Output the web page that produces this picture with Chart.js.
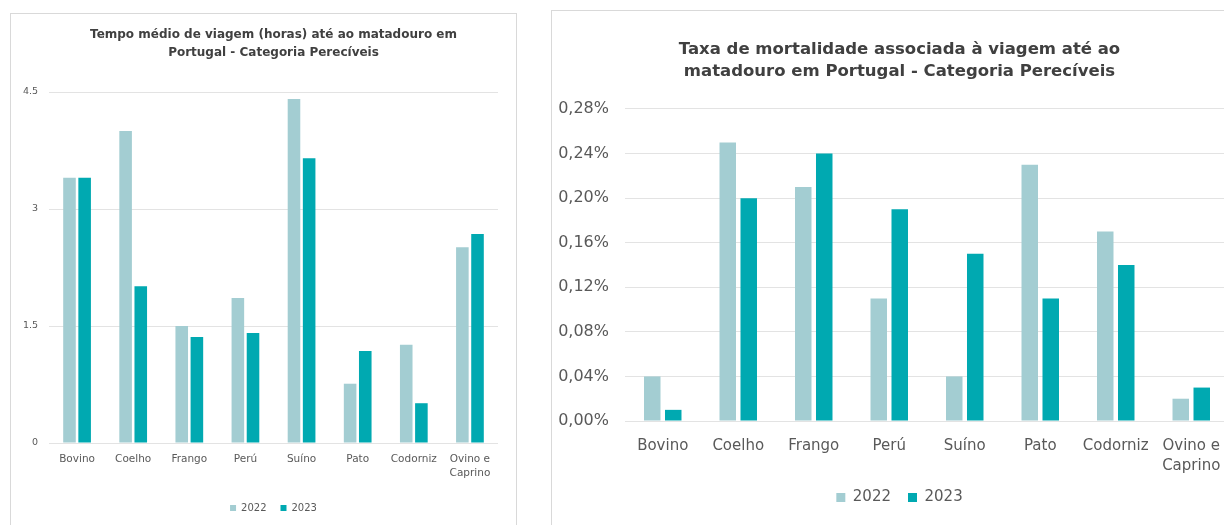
<!DOCTYPE html>
<html lang="pt">
<head>
<meta charset="utf-8">
<title>Transporte para o matadouro - Perecíveis</title>
<script src="https://cdn.jsdelivr.net/npm/chart.js@4/dist/chart.umd.min.js"></script>
<style>
    html, body {
        margin: 0;
        padding: 0;
        background: #fff;
        overflow: hidden;
        width: 1224px;
        height: 525px;
    }
    .cartao {
        position: absolute;
        border: 1px solid #d9d9d9;
        background: #fff;
        box-sizing: border-box;
    }
    #cartao-tempo { left: 10px; top: 13px; width: 507px; height: 540px; }
    #cartao-mortalidade { left: 551px; top: 10px; width: 720px; height: 540px; }
    canvas { position: absolute; left: 0; top: 0; }
</style>
</head>
<body>

<div class="cartao" id="cartao-tempo">
    <canvas id="grafico-tempo" width="505" height="516"></canvas>
</div>
<div class="cartao" id="cartao-mortalidade">
    <canvas id="grafico-mortalidade" width="690" height="520"></canvas>
</div>

<script>
// Categorias de animais
var categorias = ['Bovino', 'Coelho', 'Frango', 'Perú', 'Suíno', 'Pato', 'Codorniz', ['Ovino e', 'Caprino']];

// Tempo médio de viagem (horas)
var tempo2022 = [3.40, 4.00, 1.50, 1.86, 4.41, 0.76, 1.26, 2.51];
var tempo2023 = [3.40, 2.01, 1.36, 1.41, 3.65, 1.18, 0.51, 2.68];
var ticksTempo = [0, 1.5, 3, 4.5];

// Taxa de mortalidade (%)
var mortalidade2022 = [0.04, 0.25, 0.21, 0.11, 0.04, 0.23, 0.17, 0.02];
var mortalidade2023 = [0.01, 0.20, 0.24, 0.19, 0.15, 0.11, 0.14, 0.03];
var ticksMortalidade = [0, 0.04, 0.08, 0.12, 0.16, 0.20, 0.24, 0.28];

var anos = ['2022', '2023'];
var cores = ['#a3cdd2', '#00a9b1'];

var FONTE = '"DejaVu Sans", "Noto Sans", sans-serif';

function criaGrafico(canvas, o) {
    var escalas = {
        x: {
            grid: { display: false, drawTicks: false },
            border: { display: false },
            ticks: {
                color: '#595959',
                font: { family: FONTE, size: o.tamEixoX, lineHeight: o.linhaEixo },
                padding: o.padX,
                maxRotation: 0,
                autoSkip: false
            },
            afterFit: function (s) { s.height = o.alturaX; }
        },
        y: {
            min: o.ticks[0],
            max: o.ticks[o.ticks.length - 1],
            grid: { color: '#e3e3e3', lineWidth: 1, drawTicks: false },
            border: { display: false },
            afterBuildTicks: function (s) {
                s.ticks = o.ticks.map(function (v) { return { value: v }; });
            },
            ticks: {
                color: '#595959',
                font: { family: FONTE, size: o.tamEixoY },
                padding: o.padY,
                callback: o.formato
            },
            afterFit: function (s) { s.width = o.larguraY; }
        }
    };

    // margem vazia à direita, para o título e a legenda ficarem centrados no cartão
    if (o.margemDireita) {
        escalas.margem = {
            type: 'linear',
            position: 'right',
            grid: { display: false, drawTicks: false },
            border: { display: false },
            ticks: { display: false },
            afterFit: function (s) { s.width = o.margemDireita; }
        };
    }

    return new Chart(canvas, {
        type: 'bar',
        data: {
            labels: categorias,
            datasets: [
                { label: anos[0], data: o.serieA, backgroundColor: cores[0] },
                { label: anos[1], data: o.serieB, backgroundColor: cores[1] }
            ]
        },
        options: {
            responsive: false,
            animation: false,
            datasets: {
                bar: {
                    categoryPercentage: o.catPct,
                    barPercentage: o.barPct
                }
            },
            layout: { padding: o.padding },
            plugins: {
                title: {
                    display: true,
                    fullSize: o.tituloLargo,
                    text: o.titulo,
                    color: '#404040',
                    font: { family: FONTE, size: o.tamTitulo, weight: 'bold', lineHeight: o.alturaTitulo },
                    padding: o.padTitulo
                },
                legend: {
                    position: 'bottom',
                    fullSize: o.tituloLargo,
                    labels: {
                        color: '#595959',
                        font: { family: FONTE, size: o.tamLegenda },
                        boxWidth: o.caixa,
                        boxHeight: o.caixa,
                        padding: o.padLegenda
                    }
                },
                tooltip: { enabled: false }
            },
            scales: escalas
        }
    });
}

criaGrafico(document.getElementById('grafico-tempo'), {
    serieA: tempo2022,
    serieB: tempo2023,
    ticks: ticksTempo,
    titulo: ['Tempo médio de viagem (horas) até ao matadouro em', 'Portugal - Categoria Perecíveis'],
    tituloLargo: false,
    tamTitulo: 12, alturaTitulo: 1.5, padTitulo: { top: 12, bottom: 30 },
    tamLegenda: 10, caixa: 6, padLegenda: 14,
    tamEixoX: 10.5, tamEixoY: 9.5, linhaEixo: 1.35, padX: 9, alturaX: 46,
    padY: 11, larguraY: 30,
    catPct: 0.54, barPct: 0.83,
    padding: { left: 8, right: 18, top: 0, bottom: 7 },
    formato: function (v) { return String(v); }
});

criaGrafico(document.getElementById('grafico-mortalidade'), {
    serieA: mortalidade2022,
    serieB: mortalidade2023,
    ticks: ticksMortalidade,
    titulo: ['Taxa de mortalidade associada à viagem até ao', 'matadouro em Portugal - Categoria Perecíveis'],
    tituloLargo: true,
    tamTitulo: 16.5, alturaTitulo: 1.333, padTitulo: { top: 28, bottom: 26 },
    tamLegenda: 15, caixa: 9, padLegenda: 17,
    tamEixoX: 15, tamEixoY: 16, linhaEixo: 1.35, padX: 15, alturaX: 52,
    padY: 16, larguraY: 68, margemDireita: 13,
    catPct: 0.556, barPct: 0.786,
    padding: { left: 5, right: 0, top: 0, bottom: 16 },
    formato: function (v) { return v.toFixed(2).replace('.', ',') + '%'; }
});
</script>
</body>
</html>
